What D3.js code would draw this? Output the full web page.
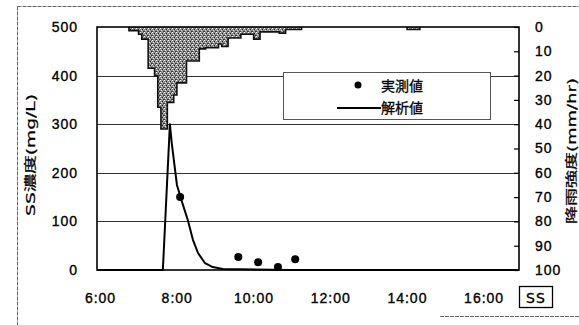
<!DOCTYPE html>
<html>
<head>
<meta charset="utf-8">
<script src="https://cdn.jsdelivr.net/npm/d3@7"></script>
<style>
  html, body { margin: 0; padding: 0; background: #fff; }
  svg { display: block; font-family: "DejaVu Sans", sans-serif; }
  .tick text { font-size: 14px; letter-spacing: 1px; fill: #000; stroke: #000; stroke-width: .35px; }
  .grid line { stroke: #333; stroke-width: 1; shape-rendering: crispEdges; }
  .cjk { font-family: "Noto Sans CJK JP", sans-serif; font-size: 14px; stroke: #000; stroke-width: .3px; }
</style>
</head>
<body>
<div id="chart"></div>
<script>
'use strict';

// Rainfall, 5 minute bins (bin start time, mm/hr)
const rainTimes = ['6:50','6:55','7:00','7:05','7:10','7:15','7:20','7:25','7:30','7:35','7:40','7:45',
  '7:50','7:55','8:00','8:05','8:10','8:15','8:20','8:25','8:30','8:35','8:40','8:45',
  '8:50','8:55','9:00','9:05','9:10','9:15','9:20','9:25','9:30','9:35','9:40','9:45',
  '9:50','9:55','10:00','10:05','10:10','10:15','10:20','10:25','10:30','10:35','10:40','10:45',
  '10:50','10:55','11:00','11:05','11:10','11:15',
  '14:05','14:10','14:15','14:20'];
const rainValues = [1.5,1.5,1.5,3,5,5,17,17,20,33,42,42,
  31,31,28,23,23,23,14,14,14,14,9,9,
  8.5,8.5,8.5,8.5,7,8,8,4.5,4.5,4.5,4.5,3,
  3,3,3,5,5,2,2,2,2,2,2,2.5,
  2.5,1,1,1,1,1,
  1,1,1,1];

// 実測値 (observed SS)
const obsTimes = ['8:10','9:41','10:12','10:43','11:10'];
const obsValues = [150, 27, 16, 6, 22];

// 解析値 (simulated SS)
const simTimes = ['6:00','7:43','7:54','7:57','8:05','8:13','8:22','8:30','8:38','8:49','9:01','9:17','11:02','17:00'];
const simValues = [0, 0, 300, 260, 175, 140, 103, 62, 35, 14, 6, 2, 0, 0];

const ssTicks = [0, 100, 200, 300, 400, 500];
const rainTicks = [0, 10, 20, 30, 40, 50, 60, 70, 80, 90, 100];
const timeTicks = [6, 8, 10, 12, 14, 16];

const parseT = s => { const [h, m] = s.split(':').map(Number); return h + m / 60; };
const binLen = 5 / 60;

const width = 579, height = 325;
const svg = d3.select('#chart').append('svg').attr('width', width).attr('height', height);

// stippled grey like the scanned original
const defs = svg.append('defs');
const pat = defs.append('pattern').attr('id', 'stip')
  .attr('width', 4).attr('height', 4).attr('patternUnits', 'userSpaceOnUse');
pat.append('rect').attr('width', 4).attr('height', 4).attr('fill', '#888');
[[0,0,'#fff'],[2,1,'#222'],[1,2,'#e0e0e0'],[3,3,'#333'],[3,1,'#bbb'],[0,3,'#444'],[2,3,'#aaa']].forEach(([px, py, c]) => {
  pat.append('rect').attr('x', px).attr('y', py).attr('width', 1).attr('height', 1).attr('fill', c);
});

svg.append('rect').attr('width', width).attr('height', height).attr('fill', '#fff');

// outer frame
const frame = svg.append('g').attr('stroke', '#666').attr('stroke-width', 1).attr('stroke-dasharray', '4,1');
frame.append('line').attr('x1', 17.5).attr('x2', 579).attr('y1', 6.5).attr('y2', 6.5);
frame.append('line').attr('x1', 17.5).attr('x2', 17.5).attr('y1', 6.5).attr('y2', 325);
frame.append('line').attr('x1', 440).attr('x2', 579).attr('y1', 316.5).attr('y2', 316.5);

const x = d3.scaleLinear().domain([6, 17]).range([97, 519]);
const y = d3.scaleLinear().domain([0, 500]).range([270, 27]);
const yRain = d3.scaleLinear().domain([0, 100]).range([27, 270]);

// grid lines
svg.append('g').attr('class', 'grid')
  .selectAll('line').data(ssTicks.slice(1, -1)).enter().append('line')
  .attr('x1', x.range()[0]).attr('x2', x.range()[1])
  .attr('y1', d => Math.round(y(d)) + .5).attr('y2', d => Math.round(y(d)) + .5);

// rainfall hyetograph, grouped into contiguous runs
const bins = rainTimes.map((t, i) => ({ t: parseT(t), v: rainValues[i] }));
const runs = [];
bins.forEach(b => {
  const last = runs.length ? runs[runs.length - 1] : null;
  if(last && Math.abs(last[last.length - 1].t + binLen - b.t) < 1e-6) last.push(b);
  else runs.push([b]);
});

const area = d3.area().x(d => x(d.t)).y0(yRain(0)).y1(d => yRain(d.v)).curve(d3.curveStepAfter);
const outline = d3.line().x(d => x(d.t)).y(d => yRain(d.v)).curve(d3.curveStepAfter);

const $rain = svg.append('g');
runs.forEach(run => {
  const end = run[run.length - 1];
  const pts = run.concat([{ t: end.t + binLen, v: end.v }]);
  $rain.append('path').attr('d', area(pts)).attr('fill', 'url(#stip)');
  const edge = [{ t: run[0].t, v: 0 }].concat(pts, [{ t: end.t + binLen, v: 0 }]);
  $rain.append('path').attr('d', outline(edge)).attr('fill', 'none')
    .attr('stroke', '#111').attr('stroke-width', 1.6);
});

// plot frame
svg.append('rect')
  .attr('x', x.range()[0]).attr('y', y(500))
  .attr('width', x.range()[1] - x.range()[0]).attr('height', y(0) - y(500))
  .attr('fill', 'none').attr('stroke', '#000').attr('stroke-width', 1.6);

// axes
const axL = svg.append('g').attr('transform', `translate(${x.range()[0]},0)`)
  .call(d3.axisLeft(y).tickValues(ssTicks).tickSize(0).tickPadding(19));
axL.select('.domain').remove();

const axR = svg.append('g').attr('transform', `translate(${x.range()[1]},0)`)
  .call(d3.axisRight(yRain).tickValues(rainTicks).tickSize(-5).tickPadding(16));
axR.select('.domain').remove();
axR.selectAll('.tick line').attr('stroke', '#000').attr('stroke-width', 1.2);

const axB = svg.append('g').attr('transform', `translate(3,${y(0)})`)
  .call(d3.axisBottom(x).tickValues(timeTicks).tickSize(0).tickPadding(23).tickFormat(d => d + ':00'));
axB.select('.domain').remove();

// simulated line
const simLine = d3.line().x(d => x(d.t)).y(d => y(d.v));
const sim = simTimes.map((t, i) => ({ t: parseT(t), v: simValues[i] }));
svg.append('path').attr('d', simLine(sim)).attr('fill', 'none')
  .attr('stroke', '#000').attr('stroke-width', 2).attr('stroke-linejoin', 'round');

// observed points
svg.append('g').selectAll('circle')
  .data(obsTimes.map((t, i) => ({ t: parseT(t), v: obsValues[i] })))
  .enter().append('circle')
  .attr('cx', d => x(d.t)).attr('cy', d => y(d.v)).attr('r', 4).attr('fill', '#000');

// legend
const $leg = svg.append('g');
$leg.append('rect').attr('x', 283.5).attr('y', 72.5).attr('width', 207).attr('height', 47)
  .attr('fill', '#fff').attr('stroke', '#555').attr('stroke-width', 1);
$leg.append('circle').attr('cx', 358).attr('cy', 85).attr('r', 3.5).attr('fill', '#000');
$leg.append('text').attr('class', 'cjk').attr('x', 381).attr('y', 90.5).text('実測値');
$leg.append('line').attr('x1', 337).attr('x2', 381).attr('y1', 108).attr('y2', 108)
  .attr('stroke', '#000').attr('stroke-width', 2);
$leg.append('text').attr('class', 'cjk').attr('x', 381).attr('y', 112.5).text('解析値');

// axis titles (stretched along the text, as in the original)
svg.append('text')
  .attr('transform', 'translate(35,155) rotate(-90) scale(1.55,1)')
  .attr('text-anchor', 'middle')
  .style('font-family', '"DejaVu Sans", "Noto Sans CJK JP", sans-serif').style('font-size', '12px')
  .style('stroke', '#000').style('stroke-width', '.25px')
  .text('SS濃度(mg/L)');

svg.append('text')
  .attr('transform', 'translate(576,151) rotate(-90) scale(1.5,1)')
  .attr('text-anchor', 'middle')
  .style('font-family', '"DejaVu Sans", "Noto Sans CJK JP", sans-serif').style('font-size', '12px')
  .style('stroke', '#000').style('stroke-width', '.25px')
  .text('降雨強度(mm/hr)');

// SS tag
svg.append('rect').attr('x', 519.5).attr('y', 286.5).attr('width', 33).attr('height', 21)
  .attr('fill', '#fff').attr('stroke', '#000').attr('stroke-width', 1.3);
svg.append('text').attr('x', 536).attr('y', 302.5).attr('text-anchor', 'middle')
  .style('font-size', '14px').style('letter-spacing', '1px')
  .style('stroke', '#000').style('stroke-width', '.35px').text('SS');
</script>
</body>
</html>
